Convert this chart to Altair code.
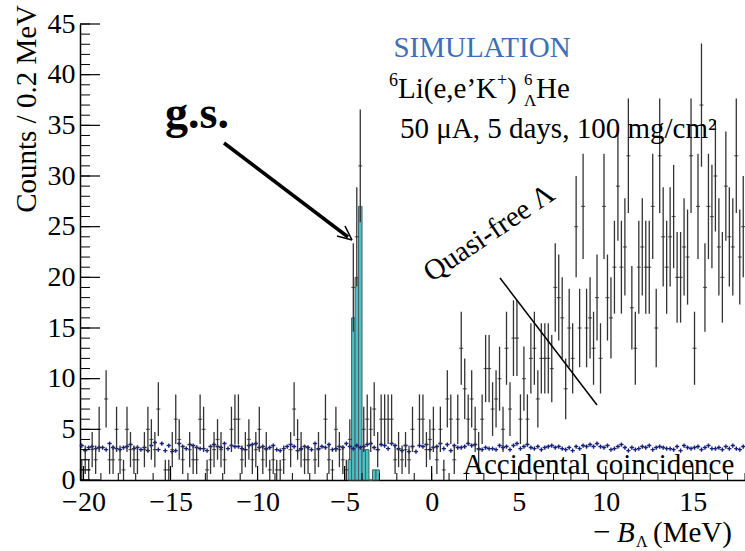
import altair as alt
import numpy as np
import pandas as pd

FONT = "Liberation Serif"
W, H = 665, 456
X_MIN, X_MAX = -20.2, 18.0
BIN = 0.2

# simulated counts per 0.2 MeV bin (black points)
counts = [
    1, 2, 1, 3, 2, 5, 0, 8, 2, 2, 5, 2, 1, 5, 3, 2, 2, 0, 3, 5,
    4, 3, 7, 0, 1, 1, 3, 6, 4, 2, 0, 3, 2, 2, 6, 5, 1, 2, 3, 4,
    3, 2, 0, 5, 6, 6, 2, 3, 4, 2, 3, 5, 2, 3, 1, 2, 1, 1, 2, 0,
    3, 7, 4, 3, 2, 2, 0, 2, 3, 0, 6, 2, 1, 5, 3, 2, 1, 4, 19, 24,
    31, 5, 6, 5, 7, 3, 6, 6, 6, 6, 2, 3, 2, 3, 2, 5, 0, 6, 6, 3,
    4, 5, 2, 5, 1, 8, 6, 2, 6, 13, 9, 6, 8, 5, 3, 6, 11, 11, 7, 8,
    10, 5, 13, 7, 14, 14, 6, 10, 6, 12, 13, 8, 12, 12, 12, 11, 19, 18, 16, 9,
    15, 12, 25, 15, 27, 15, 16, 13, 18, 12, 27, 18, 16, 21, 29, 21, 23, 32, 17, 13,
    21, 23, 21, 21, 27, 15, 32, 24, 21, 24, 26, 20, 20, 23, 22, 32, 13, 27, 37, 19,
    27, 26, 30, 23, 20, 29, 24, 23, 32, 22, 25,
]

# accidental coincidence estimate (blue crosses)
accidental = [
    3.4, 2.9, 3.2, 3.3, 3.1, 3.2, 3.2, 3.0, 3.6, 3.2, 3.1, 3.0, 3.2, 3.3, 3.5, 3.1, 3.2, 3.0, 3.2, 2.9,
    3.4, 3.7, 3.0, 3.6, 2.9, 3.4, 2.8, 2.9, 3.6, 3.3, 3.1, 3.5, 3.4, 3.2, 3.1, 3.1, 2.9, 3.3, 3.5, 3.3,
    3.2, 3.6, 3.1, 3.4, 3.3, 3.3, 3.1, 3.0, 3.4, 3.5, 3.6, 3.2, 3.3, 3.1, 3.2, 3.4, 3.0, 2.9, 3.1, 3.3,
    3.5, 3.3, 2.9, 3.1, 3.3, 3.2, 3.0, 3.6, 3.1, 3.3, 3.2, 3.5, 3.0, 3.1, 3.3, 3.2, 3.6, 3.3, 3.1, 3.4,
    3.2, 3.3, 3.5, 3.6, 3.2, 3.0, 3.5, 3.4, 3.1, 3.6, 3.4, 3.1, 2.9, 3.4, 2.8, 3.3, 2.8, 3.4, 3.3, 3.5,
    3.0, 3.2, 3.3, 3.6, 3.1, 3.5, 2.9, 3.4, 3.2, 3.2, 3.3, 3.6, 3.4, 3.5, 3.1, 3.0, 3.2, 3.1, 3.1, 3.0,
    3.4, 3.2, 3.3, 3.0, 3.4, 3.6, 3.1, 3.3, 3.5, 3.2, 3.1, 3.3, 3.0, 3.2, 3.3, 3.4, 3.2, 3.3, 3.1, 3.0,
    3.2, 2.9, 3.3, 3.1, 3.4, 3.3, 3.5, 3.3, 3.6, 3.3, 3.2, 3.4, 3.0, 3.1, 3.3, 3.5, 3.2, 2.9, 3.2, 3.0,
    3.1, 3.3, 3.2, 3.4, 3.0, 3.2, 3.3, 3.2, 3.1, 3.1, 3.0, 3.3, 2.9, 3.4, 3.2, 3.1, 3.2, 3.3, 3.0, 3.2,
    3.4, 3.1, 3.1, 3.2, 3.0, 3.3, 3.1, 3.4, 3.1, 3.0, 3.3,
]

# ground-state MC histogram (cyan)
gs_centers = [-4.7, -4.5, -4.3, -4.1, -3.9, -3.7, -3.5, -3.3, -3.1]
gs_counts = [2, 16, 20, 27, 3, 3, 0, 1, 1]

y_major = [0, 5, 10, 15, 20, 25, 30, 35, 40, 45]
y_minor = list(range(0, 46))
x_major = [-20, -15, -10, -5, 0, 5, 10, 15]
x_minor = list(range(-20, 19))

centers = np.round(X_MIN + BIN * (np.arange(len(counts)) + 0.5), 3)
n = np.array(counts, dtype=float)
df = pd.DataFrame({
    "x": centers,
    "n": n,
    "lo": n - np.sqrt(n),
    "hi": n + np.sqrt(n),
    "acc": accidental,
})
gs = pd.DataFrame({
    "x0": np.array(gs_centers) - BIN / 2,
    "x1": np.array(gs_centers) + BIN / 2,
    "n": gs_counts,
})

xs = alt.Scale(domain=[X_MIN, X_MAX], nice=False, zero=False)
ys = alt.Scale(domain=[0, 45], nice=False, zero=False)

xaxis = alt.Axis(values=x_major, format="d", ticks=False, grid=False, domain=True,
                 domainColor="black", domainWidth=1.5, labelFont=FONT, labelFontSize=28,
                 labelColor="black", labelPadding=8, labelFlush=False, labelOverlap=False,
                 title=None)
yaxis = alt.Axis(values=y_major, format="d", ticks=False, grid=False, domain=True,
                 domainColor="black", domainWidth=1.5, labelFont=FONT, labelFontSize=28,
                 labelColor="black", labelPadding=5, labelFlush=False, labelOverlap=False,
                 title=None)

cyan = alt.Chart(gs).mark_rect(color="#46c3c8", stroke="#4d5f60", strokeWidth=1).encode(
    x=alt.X("x0:Q", scale=xs, axis=xaxis),
    x2="x1:Q",
    y=alt.Y("n:Q", scale=ys, axis=yaxis),
    y2=alt.datum(0),
)

acc = alt.Chart(df).mark_point(shape="M-1,0H1M0,-1V1", size=18, filled=False,
                               strokeWidth=1.4, color="#17207a", opacity=1).encode(
    x=alt.X("x:Q", scale=xs, title=None),
    y=alt.Y("acc:Q", scale=ys, title=None),
)

nz = alt.Chart(df).transform_filter("datum.n > 0")
err = nz.mark_rule(color="#333333", strokeWidth=1.3).encode(
    x=alt.X("x:Q", scale=xs, title=None),
    y=alt.Y("lo:Q", scale=ys, title=None),
    y2="hi:Q",
)
pts = nz.mark_tick(orient="horizontal", size=4, thickness=1.2, color="#222222").encode(
    x=alt.X("x:Q", scale=xs, title=None),
    y=alt.Y("n:Q", scale=ys, title=None),
)

# inner ticks (ROOT style)
ytm = alt.Chart(pd.DataFrame({"v": y_major})).mark_rule(color="black", strokeWidth=1.2).encode(
    y=alt.Y("v:Q", scale=ys, title=None), x=alt.value(0), x2=alt.value(20))
ytn = alt.Chart(pd.DataFrame({"v": y_minor})).mark_rule(color="black", strokeWidth=1).encode(
    y=alt.Y("v:Q", scale=ys, title=None), x=alt.value(0), x2=alt.value(10))
xtm = alt.Chart(pd.DataFrame({"v": x_major})).mark_rule(color="black", strokeWidth=1.2).encode(
    x=alt.X("v:Q", scale=xs, title=None), y=alt.value(H), y2=alt.value(H - 14))
xtn = alt.Chart(pd.DataFrame({"v": x_minor})).mark_rule(color="black", strokeWidth=1).encode(
    x=alt.X("v:Q", scale=xs, title=None), y=alt.value(H), y2=alt.value(H - 7))

# annotation line segments (pixel coordinates)
segs = pd.DataFrame({
    "x1": [144, 272, 272, 420],
    "y1": [119, 216, 216, 254],
    "x2": [268, 265, 257, 517],
    "y2": [213, 202, 212, 381],
    "w": [3.5, 1.6, 1.6, 1.5],
})
lines = alt.Chart(segs).mark_rule(color="black").encode(
    x=alt.X("x1:Q", scale=None), y=alt.Y("y1:Q", scale=None),
    x2="x2:Q", y2="y2:Q",
    strokeWidth=alt.StrokeWidth("w:Q", scale=None, legend=None),
)


def txt(s, px, py, size=29, align="left", baseline="alphabetic", color="black", **kw):
    return alt.Chart(pd.DataFrame({"t": [s]})).mark_text(
        font=FONT, fontSize=size, align=align, baseline=baseline, color=color, **kw
    ).encode(x=alt.value(px), y=alt.value(py), text="t:N")


texts = [
    txt("SIMULATION", 402, 33, align="center", color="#3d6fb6"),
    txt("6", 309, 62, size=18),
    txt("Li(e,e\u2019K", 318, 74),
    txt("+", 417, 62, size=18),
    txt(")", 427, 74),
    txt("6", 444, 61, size=17),
    txt("\u039b", 444, 82, size=17),
    txt("He", 456, 74),
    txt("50 \u03bcA, 5 days, 100 mg/cm\u00b2", 320, 114),
    txt("g.s.", 85, 104, size=46, fontWeight="bold"),
    txt("Quasi-free \u039b", 409, 209, align="center", baseline="middle", angle=326),
    txt("Accidental coincidence", 383, 450),
    txt("\u2212", 513, 518, size=31),
    txt("B", 537, 518, fontStyle="italic"),
    txt("\u039b", 556, 523, size=16),
    txt("(MeV)", 573, 518),
    txt("Counts / 0.2 MeV", -44, -19, align="right", angle=270),
]

chart = alt.layer(cyan, acc, err, pts, ytm, ytn, xtm, xtn, lines, *texts).properties(
    width=W, height=H,
    padding={"left": 80, "top": 24, "right": 0, "bottom": 71},
    autosize=alt.AutoSizeParams(type="none"),
    background="white",
).configure_view(stroke=None)

chart.save("out.html", embed_options={"renderer": "svg", "actions": False})
